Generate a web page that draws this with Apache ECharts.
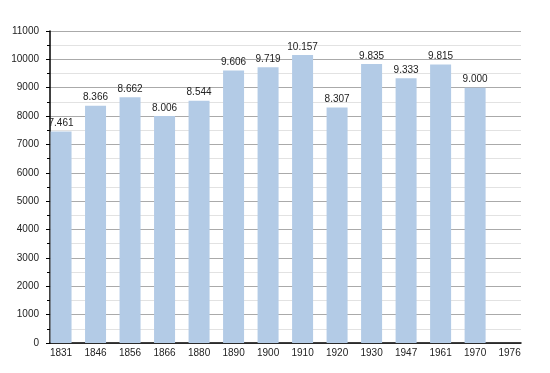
<!DOCTYPE html>
<html><head><meta charset="utf-8">
<script src="https://cdn.jsdelivr.net/npm/echarts@6/dist/echarts.min.js"></script>
<style>html,body{margin:0;padding:0;background:#fff}#c{width:550px;height:373px}</style>
</head><body><div id="c"></div>
<script>
var years = ['1831','1846','1856','1866','1880','1890','1900','1910','1920','1930','1947','1961','1970','1976'];
var population = [7461, 8366, 8662, 8006, 8544, 9606, 9719, 10157, 8307, 9835, 9333, 9815, 9000];
var yTicks = [0,1000,2000,3000,4000,5000,6000,7000,8000,9000,10000,11000];

function fmt(v){ var s=String(v); return s.length>3 ? s.slice(0,s.length-3)+'.'+s.slice(s.length-3) : s; }

var chart = echarts.init(document.getElementById('c'), null, {renderer:'canvas'});
var font = 'Liberation Sans, Arial, sans-serif';
chart.setOption({
  animation:false,
  grid:{left:50, right:29, top:31, bottom:30, containLabel:false},
  xAxis:{
    type:'value', min:-0.32, max:13.33,
    axisLine:{show:true, onZero:false, lineStyle:{color:'#000', width:1.5}},
    axisTick:{show:false},
    splitLine:{show:false},
    axisLabel:{customValues:years.map(function(_,i){return i;}), formatter:function(v){return years[Math.round(v)];},
      color:'#222', fontFamily:font, fontSize:10, margin:5}
  },
  yAxis:{
    type:'value', min:0, max:11000, interval:1000,
    axisLine:{show:true, onZero:false, lineStyle:{color:'#000', width:1.5}},
    axisTick:{show:true, length:4, lineStyle:{color:'#000'}},
    minorTick:{show:true, splitNumber:2, length:3, lineStyle:{color:'#000'}},
    splitLine:{show:true, lineStyle:{color:'#aaaaaa', width:1}},
    minorSplitLine:{show:true, lineStyle:{color:'#e2e2e2', width:1}},
    axisLabel:{color:'#222', fontFamily:font, fontSize:10, margin:11,
      customValues:yTicks, formatter:function(v){return String(v);}}
  },
  series:[{
    type:'bar', barWidth:21,
    data:population.map(function(v,i){return [i,v];}),
    itemStyle:{color:'#b3cbe6'},
    label:{show:true, position:'top', distance:3, color:'#222', fontFamily:font, fontSize:10,
      formatter:function(p){return fmt(p.value[1]);}}
  }]
});
</script></body></html>
